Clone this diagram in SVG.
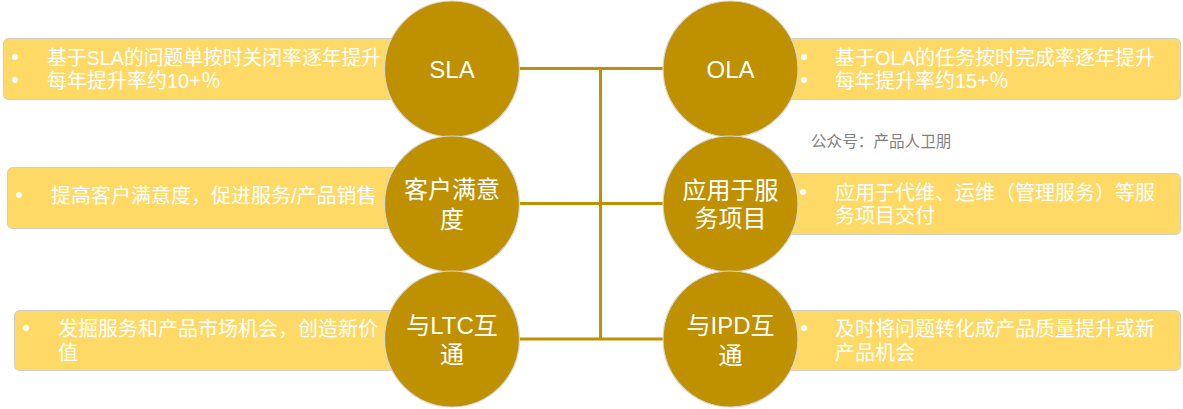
<svg xmlns="http://www.w3.org/2000/svg" width="1183" height="409" viewBox="0 0 1183 409">
<style>
.box{fill:#FFD966;stroke:#d0cfc8;stroke-width:1}
.node{fill:#BF9000;stroke:#d6d6d6;stroke-width:1.2}
.conn{stroke:#BF9000;stroke-width:3;fill:none}
.bt{font-family:"Liberation Sans","Noto Sans CJK SC",sans-serif;font-size:20px;fill:#ffffff}
.nt{font-family:"Liberation Sans","Noto Sans CJK SC",sans-serif;font-size:24px;fill:#ffffff;text-anchor:middle}
.dot{fill:#ffffff}
.wm{font-family:"Noto Sans CJK SC","Noto Sans",sans-serif;font-size:15.6px;fill:#7f7f7f}
</style>
<rect width="1183" height="409" fill="#ffffff"/>
<g id="connectors">
<line class="conn" x1="519" y1="68.5" x2="663" y2="68.5"/>
<line class="conn" x1="519" y1="203.5" x2="663" y2="203.5"/>
<line class="conn" x1="519" y1="339" x2="663" y2="339"/>
<line class="conn" x1="600.5" y1="68.5" x2="600.5" y2="339"/>
</g>
<g id="box-sla">
<rect class="box" x="3.5" y="38.5" width="420" height="61" rx="5"/>
<circle class="dot" cx="15" cy="57" r="3"/>
<circle class="dot" cx="15" cy="80" r="3"/>
<text class="bt"><tspan x="47" y="64.5" textLength="334" lengthAdjust="spacingAndGlyphs">基于SLA的问题单按时关闭率逐年提升</tspan><tspan x="47" y="87.5">每年提升率约10+％</tspan></text>
</g>
<g id="box-csat">
<rect class="box" x="7.5" y="167.5" width="420" height="61" rx="5"/>
<circle class="dot" cx="19" cy="195" r="3"/>
<text class="bt" x="51" y="202.5">提高客户满意度，促进服务/产品销售</text>
</g>
<g id="box-ltc">
<rect class="box" x="14.5" y="310.5" width="420" height="60" rx="5"/>
<circle class="dot" cx="26" cy="328" r="3"/>
<text class="bt"><tspan x="58" y="335.5">发掘服务和产品市场机会，创造新价</tspan><tspan x="58" y="359.5">值</tspan></text>
</g>
<g id="box-ola">
<rect class="box" x="780.5" y="38.5" width="400" height="61" rx="5"/>
<circle class="dot" cx="804" cy="57" r="3"/>
<circle class="dot" cx="804" cy="80" r="3"/>
<text class="bt"><tspan x="835" y="64.5">基于OLA的任务按时完成率逐年提升</tspan><tspan x="835" y="87.5">每年提升率约15+％</tspan></text>
</g>
<g id="box-service">
<rect class="box" x="780.5" y="173.5" width="400" height="61" rx="5"/>
<circle class="dot" cx="803" cy="192" r="3"/>
<text class="bt"><tspan x="835" y="199.5">应用于代维、运维（管理服务）等服</tspan><tspan x="835" y="222.5">务项目交付</tspan></text>
</g>
<g id="box-ipd">
<rect class="box" x="780.5" y="310.5" width="400" height="60" rx="5"/>
<circle class="dot" cx="804" cy="328" r="3"/>
<text class="bt"><tspan x="835" y="336">及时将问题转化成产品质量提升或新</tspan><tspan x="835" y="359.5">产品机会</tspan></text>
</g>
<g id="node-sla">
<ellipse class="node" cx="452" cy="69" rx="67.5" ry="68"/>
<text class="nt" x="452" y="77.5">SLA</text>
</g>
<g id="node-csat">
<ellipse class="node" cx="452" cy="204" rx="67.5" ry="68"/>
<text class="nt"><tspan x="452" y="198">客户满意</tspan><tspan x="452" y="228">度</tspan></text>
</g>
<g id="node-ltc">
<ellipse class="node" cx="452" cy="339" rx="67.5" ry="68"/>
<text class="nt"><tspan x="452" y="334">与LTC互</tspan><tspan x="452" y="363">通</tspan></text>
</g>
<g id="node-ola">
<ellipse class="node" cx="730.5" cy="69" rx="67.5" ry="68"/>
<text class="nt" x="730.5" y="77.5">OLA</text>
</g>
<g id="node-service">
<ellipse class="node" cx="730.5" cy="204" rx="67.5" ry="68"/>
<text class="nt"><tspan x="730.5" y="199">应用于服</tspan><tspan x="730.5" y="227">务项目</tspan></text>
</g>
<g id="node-ipd">
<ellipse class="node" cx="730.5" cy="339" rx="67.5" ry="68"/>
<text class="nt"><tspan x="730.5" y="333.5">与IPD互</tspan><tspan x="730.5" y="363.5">通</tspan></text>
</g>
<text class="wm" x="811" y="146.5">公众号：产品人卫朋</text>
</svg>
